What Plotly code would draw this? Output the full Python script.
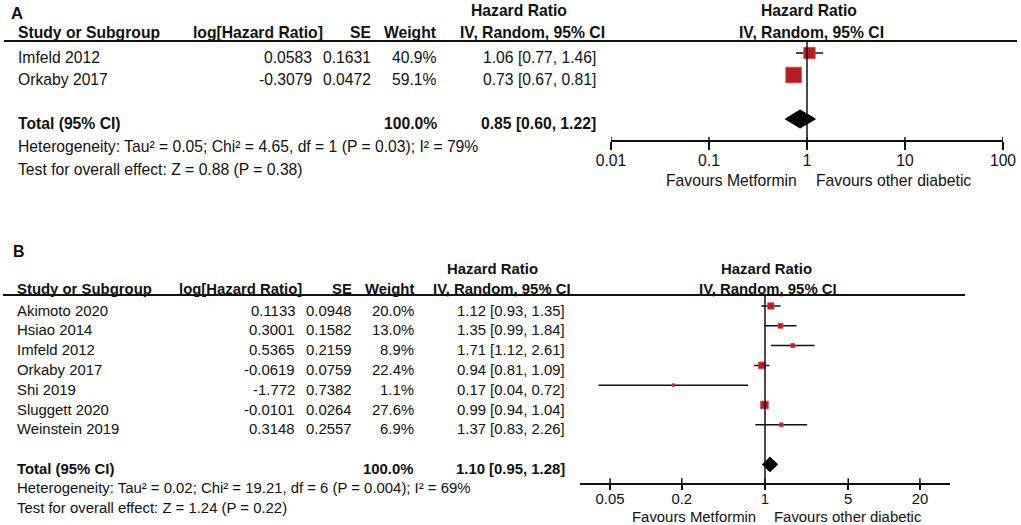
import plotly.graph_objects as go

W, H = 1021, 525

# ---- Panel A: two studies ----
a_study = ["Imfeld 2012", "Orkaby 2017"]
a_loghr = [0.0583, -0.3079]
a_se = [0.1631, 0.0472]
a_weight = [40.9, 59.1]
a_hr = [1.06, 0.73]
a_lo = [0.77, 0.67]
a_hi = [1.46, 0.81]
a_total = [0.85, 0.60, 1.22]   # estimate, lower, upper
a_het = "Heterogeneity: Tau² = 0.05; Chi² = 4.65, df = 1 (P = 0.03); I² = 79%"
a_test = "Test for overall effect: Z = 0.88 (P = 0.38)"
a_ticks = [0.01, 0.1, 1, 10, 100]
a_ticktext = ["0.01", "0.1", "1", "10", "100"]

# ---- Panel B: seven studies ----
b_study = ["Akimoto 2020", "Hsiao 2014", "Imfeld 2012", "Orkaby 2017",
           "Shi 2019", "Sluggett 2020", "Weinstein 2019"]
b_loghr = [0.1133, 0.3001, 0.5365, -0.0619, -1.772, -0.0101, 0.3148]
b_se = [0.0948, 0.1582, 0.2159, 0.0759, 0.7382, 0.0264, 0.2557]
b_weight = [20.0, 13.0, 8.9, 22.4, 1.1, 27.6, 6.9]
b_hr = [1.12, 1.35, 1.71, 0.94, 0.17, 0.99, 1.37]
b_lo = [0.93, 0.99, 1.12, 0.81, 0.04, 0.94, 0.83]
b_hi = [1.35, 1.84, 2.61, 1.09, 0.72, 1.04, 2.26]
b_total = [1.10, 0.95, 1.28]
b_het = "Heterogeneity: Tau² = 0.02; Chi² = 19.21, df = 6 (P = 0.004); I² = 69%"
b_test = "Test for overall effect: Z = 1.24 (P = 0.22)"
b_ticks = [0.05, 0.2, 1, 5, 20]
b_ticktext = ["0.05", "0.2", "1", "5", "20"]

FONT = "Liberation Sans, Arial, sans-serif"
INK = "#111111"
RED = "#B81D23"

# pixel geometry of each panel
GEO_A = dict(label="A", label_xy=(10, 13), xdom=(611, 1003), xrange=(-2, 2),
             ydom=(41, 140), row0=53, step=22, fs=15.7,
             head1_y=11, head2_y=33, name_x=17, logh_head_x=192,
             loghr_r=313, se_r=372, wt_r=438, ci_r=597, ci_head_c=532,
             hr_head_c=519, plot_head_c=809, het_y=146, test_y=170,
             fav_y=180, fav_l=798, fav_r=815, rule=(4, 1017),
             ticklen=(8, 3), standoff=-3,
             dy=4.5, dia_h=0.41, sq=(2.0, 0.23))
GEO_B = dict(label="B", label_xy=(12, 251), xdom=(579.7, 950.3), xrange=(-1.556, 1.556),
             ydom=(295, 483.3), row0=306, step=19.8, fs=14.9,
             head1_y=269, head2_y=289, name_x=16, logh_head_x=178,
             loghr_r=296, se_r=353, wt_r=415, ci_r=566, ci_head_c=502,
             hr_head_c=492, plot_head_c=766, het_y=488, test_y=507.7,
             fav_y=516.7, fav_l=756.7, fav_r=772.7, rule=(3, 965),
             ticklen=(5, 5), standoff=-4,
             dy=4.5, dia_h=0.37, sq=(2.5, 0.19))


def px(x):
    return x / W


def py(y):
    return 1 - y / H


def txt(fig, s, x, y, anchor="left", bold=False, size=15, yref="paper", yshift=0):
    fig.add_annotation(text=f"<b>{s}</b>" if bold else s, x=px(x), xref="paper",
                       y=py(y) if yref == "paper" else y, yref=yref, yshift=yshift,
                       xanchor=anchor, yanchor="middle", showarrow=False,
                       borderpad=0, font=dict(family=FONT, size=size, color=INK))


def add_panel(fig, n, study, loghr, se, weight, hr, lo, hi, total, het, test,
              ticks, ticktext, g):
    xa = "x" if n == 1 else f"x{n}"
    ya = "y" if n == 1 else f"y{n}"
    fs = g["fs"]
    rows = list(range(len(study)))
    k_tot = len(study) + 1

    # whiskers
    wx, wy = [], []
    for r, l, h in zip(rows, lo, hi):
        wx += [l, h, None]
        wy += [r, r, None]
    fig.add_trace(go.Scatter(x=wx, y=wy, mode="lines", xaxis=xa, yaxis=ya,
                             line=dict(color=INK, width=1.5), hoverinfo="skip"))
    # weighted squares (opacity set, otherwise plotly treats it as a bubble chart)
    a, b = g["sq"]
    fig.add_trace(go.Scatter(x=hr, y=rows, mode="markers", xaxis=xa, yaxis=ya,
                             marker=dict(symbol="square", color=RED, opacity=1,
                                         size=[a + b * w for w in weight],
                                         line=dict(color="#CC4A4F", width=0.8))))
    # pooled diamond
    est, tl, th = total
    dh = g["dia_h"]
    fig.add_trace(go.Scatter(x=[tl, est, th, est, tl], y=[k_tot, k_tot - dh, k_tot, k_tot + dh, k_tot],
                             mode="lines", fill="toself", fillcolor="black",
                             line=dict(color="black", width=1), xaxis=xa, yaxis=ya))

    # axes
    top, bot = g["ydom"]
    tl_out, tl_in = g["ticklen"]
    fig.layout[f"xaxis{'' if n == 1 else n}"] = dict(
        domain=[px(g["xdom"][0]), px(g["xdom"][1])], type="log", range=list(g["xrange"]),
        anchor=ya, tickvals=ticks, ticktext=ticktext, showline=True, linecolor=INK,
        linewidth=1.5, ticks="outside", ticklen=tl_out, tickwidth=1.5, tickcolor=INK,
        ticklabelstandoff=g["standoff"],
        showgrid=False, zeroline=False, automargin=False,
        tickfont=dict(family=FONT, size=fs, color=INK))
    fig.layout[f"yaxis{'' if n == 1 else n}"] = dict(
        domain=[py(bot), py(top)], anchor=xa, automargin=False,
        range=[(bot - g["row0"]) / g["step"], (top - g["row0"]) / g["step"]],
        showline=False, showticklabels=False, showgrid=False, zeroline=False)

    # tick marks in RevMan cross the axis line: add the short upper part
    for t in ticks:
        fig.add_shape(type="line", xref=xa, x0=t, x1=t, yref=f"{ya} domain",
                      ysizemode="pixel", yanchor=0, y0=0, y1=tl_in,
                      line=dict(color=INK, width=1.5))

    # line of no effect
    fig.add_shape(type="line", xref=xa, yref=f"{ya} domain", x0=1, x1=1, y0=0, y1=1,
                  line=dict(color=INK, width=1.5))
    # header rule
    fig.add_shape(type="line", xref="paper", yref="paper", x0=px(g["rule"][0]), x1=px(g["rule"][1]),
                  y0=py(top), y1=py(top), line=dict(color=INK, width=1.8))

    # headers
    lx, ly = g["label_xy"]
    txt(fig, g["label"], lx, ly, bold=True, size=fs + 1)
    txt(fig, "Hazard Ratio", g["hr_head_c"], g["head1_y"], "center", True, fs)
    txt(fig, "Hazard Ratio", g["plot_head_c"], g["head1_y"], "center", True, fs)
    h2 = g["head2_y"]
    txt(fig, "Study or Subgroup", g["name_x"], h2, bold=True, size=fs)
    txt(fig, "log[Hazard Ratio]", g["logh_head_x"], h2, bold=True, size=fs)
    txt(fig, "SE", g["se_r"], h2, "right", True, fs)
    txt(fig, "Weight", g["wt_r"], h2, "right", True, fs)
    txt(fig, "IV, Random, 95% CI", g["ci_head_c"], h2, "center", True, fs)
    txt(fig, "IV, Random, 95% CI", g["plot_head_c"] + 2, h2, "center", True, fs)

    # study rows, placed on the panel's y axis
    ysh = -g["dy"]
    for r, s, lg, e, w, v, l, h in zip(rows, study, loghr, se, weight, hr, lo, hi):
        txt(fig, s, g["name_x"], r, yref=ya, yshift=ysh, size=fs)
        txt(fig, f"{lg:.4g}", g["loghr_r"], r, "right", yref=ya, yshift=ysh, size=fs)
        txt(fig, f"{e:.4g}", g["se_r"], r, "right", yref=ya, yshift=ysh, size=fs)
        txt(fig, f"{w:.1f}%", g["wt_r"], r, "right", yref=ya, yshift=ysh, size=fs)
        txt(fig, f"{v:.2f} [{l:.2f}, {h:.2f}]", g["ci_r"], r, "right", yref=ya, yshift=ysh, size=fs)

    # the reference prints the pooled weight as 100.0%
    txt(fig, "Total (95% CI)", g["name_x"], k_tot, bold=True, yref=ya, yshift=ysh, size=fs)
    txt(fig, "100.0%", g["wt_r"], k_tot, "right", True, yref=ya, yshift=ysh, size=fs)
    txt(fig, f"{est:.2f} [{tl:.2f}, {th:.2f}]", g["ci_r"], k_tot, "right", True, yref=ya,
        yshift=ysh, size=fs)
    txt(fig, het, g["name_x"], g["het_y"], size=fs)
    txt(fig, test, g["name_x"], g["test_y"], size=fs)
    txt(fig, "Favours Metformin", g["fav_l"], g["fav_y"], "right", size=fs)
    txt(fig, "Favours other diabetic", g["fav_r"], g["fav_y"], "left", size=fs)


fig = go.Figure()
add_panel(fig, 1, a_study, a_loghr, a_se, a_weight, a_hr, a_lo, a_hi, a_total,
          a_het, a_test, a_ticks, a_ticktext, GEO_A)
add_panel(fig, 2, b_study, b_loghr, b_se, b_weight, b_hr, b_lo, b_hi, b_total,
          b_het, b_test, b_ticks, b_ticktext, GEO_B)

fig.update_layout(width=W, height=H, margin=dict(l=0, r=0, t=0, b=0, pad=0, autoexpand=False),
                  paper_bgcolor="white", plot_bgcolor="white", showlegend=False)

# drop the browser's default 8px body margin so the figure sits at the page corner
fig.write_html("out.html", config={"displayModeBar": False},
               post_script="document.body.style.margin='0';")
